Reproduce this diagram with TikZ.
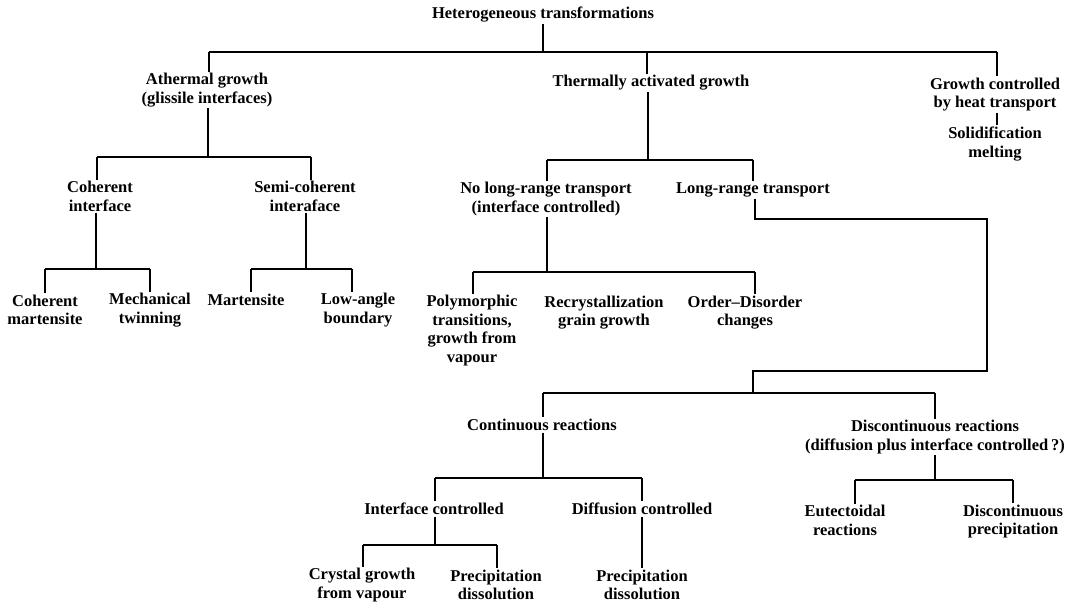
\documentclass[tikz,border=0pt]{standalone}
\usepackage{fontspec}
\setmainfont{Liberation Serif}
\begin{document}
\begin{tikzpicture}[x=1pt,y=-1pt]
\tikzset{
  lbl/.style={align=center, inner sep=1.5pt, font=\fontsize{16.5}{18.5}\selectfont\bfseries},
  con/.style={line width=1.1pt, draw=black}
}
\useasboundingbox (0,0) rectangle (1075,604);
% nodes
\node[lbl] (title) at (543,15) {Heterogeneous transformations};
\node[lbl] (ath) at (207,90) {Athermal growth\\(glissile interfaces)};
\node[lbl] (thm) at (651,83) {Thermally activated growth};
\node[lbl] (heat) at (995,94.5) {Growth controlled\\by heat transport};
\node[lbl] (sol) at (995,144) {Solidification\\melting};
\node[lbl] (coh) at (100,196.5) {Coherent\\interface};
\node[lbl] (semi) at (305,196.5) {Semi-coherent\\interaface};
\node[lbl] (cm) at (45,310) {Coherent\\martensite};
\node[lbl] (mt) at (150,310) {Mechanical\\twinning};
\node[lbl] (mart) at (246,300) {Martensite};
\node[lbl] (lab) at (358,310) {Low-angle\\boundary};
\node[lbl] (nolr) at (546,199) {No long-range transport\\(interface controlled)};
\node[lbl] (lr) at (753,190) {Long-range transport};
\node[lbl] (poly) at (472,330.5) {Polymorphic\\transitions,\\growth from\\vapour};
\node[lbl] (rec) at (604,312.5) {Recrystallization\\grain growth};
\node[lbl] (od) at (745,312.5) {Order–Disorder\\changes};
\node[lbl] (cont) at (542,425) {Continuous reactions};
\node[lbl] (disc) at (935,437) {Discontinuous reactions\\(diffusion plus interface controlled\,?)};
\node[lbl] (ic) at (434,509) {Interface controlled};
\node[lbl] (dc) at (642,509) {Diffusion controlled};
\node[lbl] (cg) at (362,585) {Crystal growth\\from vapour};
\node[lbl] (pd1) at (496,585) {Precipitation\\dissolution};
\node[lbl] (pd2) at (642,585) {Precipitation\\dissolution};
\node[lbl] (eut) at (845,520.5) {Eutectoidal\\reactions};
\node[lbl] (dp) at (1013,521.5) {Discontinuous\\precipitation};
% bracket corner coordinates
\coordinate (lrTR) at (987,219);
\coordinate (lrBL) at (753,371);
\coordinate (J) at (753,393);
% level 1
\draw[con] (title.south) -- (title.south |- 0,52);
\draw[con] ([xshift=2pt]ath.north |- 0,52) -- ([xshift=2pt]heat.north |- 0,52);
\draw[con] ([xshift=2pt]ath.north |- 0,52) -- ([xshift=2pt]ath.north);
\draw[con] ([xshift=-4pt]thm.north |- 0,52) -- ([xshift=-4pt]thm.north);
\draw[con] ([xshift=2pt]heat.north |- 0,52) -- ([xshift=2pt]heat.north);
\draw[con] ([xshift=2pt]heat.south) -- ([xshift=2pt]sol.north);
% athermal
\draw[con] ([xshift=1pt]ath.south) -- ([xshift=1pt]ath.south |- 0,157);
\draw[con] ([xshift=-3pt]coh.north |- 0,157) -- ([xshift=6pt]semi.north |- 0,157);
\draw[con] ([xshift=-3pt]coh.north |- 0,157) -- ([xshift=-3pt]coh.north);
\draw[con] ([xshift=6pt]semi.north |- 0,157) -- ([xshift=6pt]semi.north);
% coherent
\draw[con] ([xshift=-4pt]coh.south) -- ([xshift=-4pt]coh.south |- 0,269);
\draw[con] (cm.north |- 0,269) -- (mt.north |- 0,269);
\draw[con] (cm.north |- 0,269) -- (cm.north);
\draw[con] (mt.north |- 0,269) -- (mt.north);
% semi-coherent
\draw[con] ([xshift=1pt]semi.south) -- ([xshift=1pt]semi.south |- 0,269);
\draw[con] ([xshift=5pt]mart.north |- 0,269) -- ([xshift=-6pt]lab.north |- 0,269);
\draw[con] ([xshift=5pt]mart.north |- 0,269) -- ([xshift=5pt]mart.north);
\draw[con] ([xshift=-6pt]lab.north |- 0,269) -- ([xshift=-6pt]lab.north);
% thermal
\draw[con] ([xshift=-3pt]thm.south) -- ([xshift=-3pt]thm.south |- 0,160);
\draw[con] ([xshift=1pt]nolr.north |- 0,160) -- (lr.north |- 0,160);
\draw[con] ([xshift=1pt]nolr.north |- 0,160) -- ([xshift=1pt]nolr.north);
\draw[con] (lr.north |- 0,160) -- (lr.north);
% no long-range
\draw[con] ([xshift=1pt]nolr.south) -- ([xshift=1pt]nolr.south |- 0,272);
\draw[con] ([xshift=1pt]poly.north |- 0,272) -- ([xshift=10pt]od.north |- 0,272);
\draw[con] ([xshift=1pt]poly.north |- 0,272) -- ([xshift=1pt]poly.north);
\draw[con] ([xshift=10pt]od.north |- 0,272) -- ([xshift=10pt]od.north);
% long-range bracket
\draw[con] ([xshift=2pt]lr.south) |- (lrTR) |- (lrBL) -- (J);
\draw[con] ([xshift=1pt]cont.north |- J) -- (disc.north |- J);
\draw[con] ([xshift=1pt]cont.north |- J) -- ([xshift=1pt]cont.north);
\draw[con] (disc.north |- J) -- (disc.north);
% continuous
\draw[con] ([xshift=1pt]cont.south) -- ([xshift=1pt]cont.south |- 0,478);
\draw[con] ([xshift=1pt]ic.north |- 0,478) -- (dc.north |- 0,478);
\draw[con] ([xshift=1pt]ic.north |- 0,478) -- ([xshift=1pt]ic.north);
\draw[con] (dc.north |- 0,478) -- (dc.north);
% interface controlled
\draw[con] ([xshift=1pt]ic.south) -- ([xshift=1pt]ic.south |- 0,545);
\draw[con] ([xshift=1pt]cg.north |- 0,545) -- ([xshift=1pt]pd1.north |- 0,545);
\draw[con] ([xshift=1pt]cg.north |- 0,545) -- ([xshift=1pt]cg.north);
\draw[con] ([xshift=1pt]pd1.north |- 0,545) -- ([xshift=1pt]pd1.north);
% diffusion controlled
\draw[con] (dc.south) -- (pd2.north);
% discontinuous
\draw[con] (disc.south) -- (disc.south |- 0,480);
\draw[con] ([xshift=10pt]eut.north |- 0,480) -- (dp.north |- 0,480);
\draw[con] ([xshift=10pt]eut.north |- 0,480) -- ([xshift=10pt]eut.north);
\draw[con] (dp.north |- 0,480) -- (dp.north);
\end{tikzpicture}
\end{document}
